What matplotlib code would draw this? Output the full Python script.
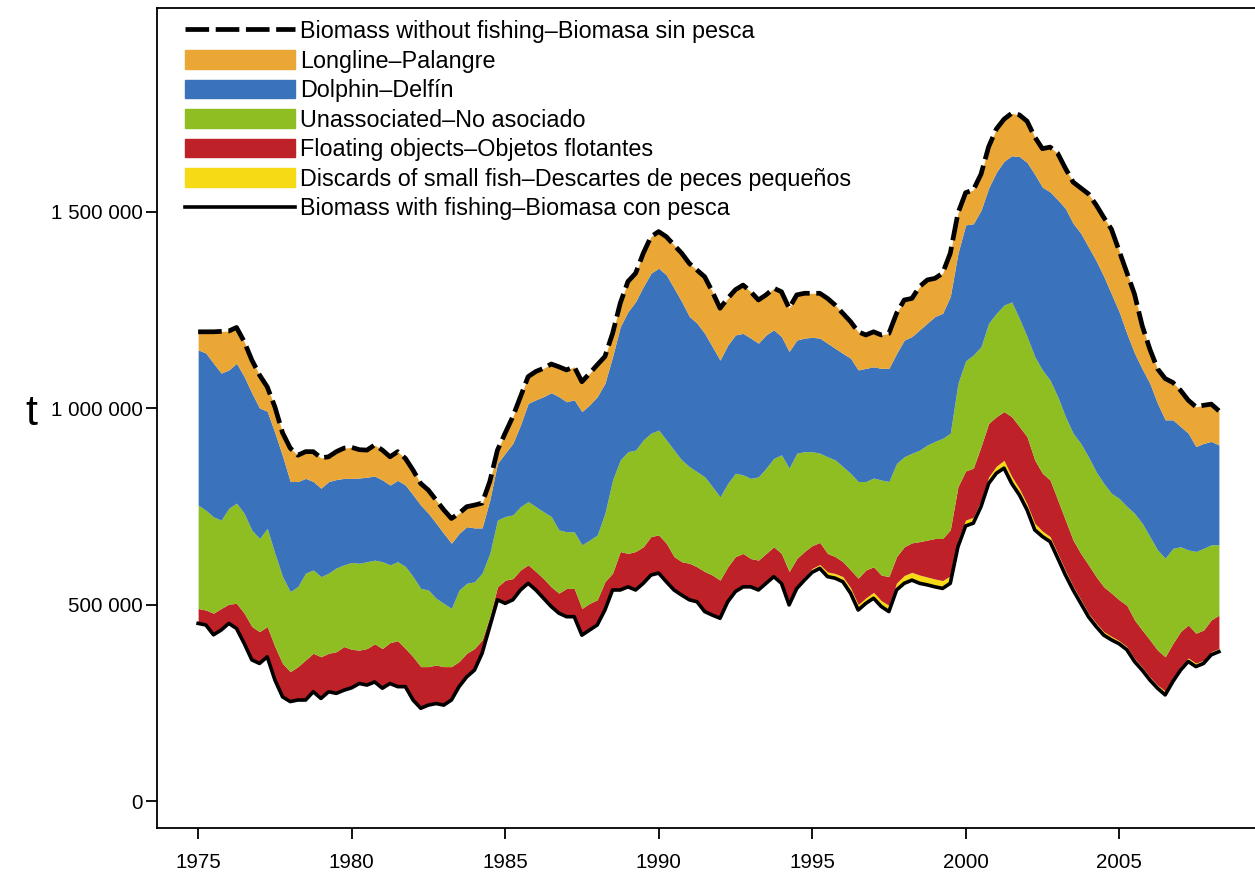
import numpy as np
import matplotlib
matplotlib.use("Agg")
import matplotlib.pyplot as plt
from matplotlib.lines import Line2D
from matplotlib.patches import Patch
from matplotlib.ticker import FuncFormatter

plt.rcParams['font.family'] = ['Liberation Sans', 'DejaVu Sans']

# quarterly, 1975.0 - 2008.25 (thousand t)
years = np.arange(1975, 2008.5, 0.25)

with_fishing = [
    452, 448, 423, 435, 452, 439, 401, 359, 350, 367, 308, 265, 253, 257, 257, 278,
    261, 278, 274, 282, 288, 299, 295, 303, 287, 299, 291, 291, 257, 236, 244, 248,
    244, 257, 291, 316, 333, 376, 444, 512, 503, 512, 537, 554, 537, 516, 495, 478,
    469, 469, 422, 435, 448, 486, 537, 537, 545, 537, 554, 575, 580, 558, 537, 524,
    512, 507, 482, 473, 465, 507, 533, 545, 545, 537, 554, 571, 554, 499, 541, 562,
    582, 592, 571, 567, 558, 529, 486, 503, 516, 495, 482, 537, 554, 562, 554, 550,
    545, 541, 554, 647, 700, 707, 749, 808, 834, 847, 808, 779, 741, 690, 673, 660,
    618, 575, 537, 503, 469, 444, 422, 410, 400, 385, 355, 333, 308, 287, 270, 304,
    333, 355, 342, 350, 372, 380]

discards = [
    2, 2, 2, 2, 2, 2, 2, 2, 2, 2, 2, 2, 2, 2, 2, 2,
    2, 2, 2, 2, 2, 2, 2, 2, 2, 2, 2, 2, 2, 2, 2, 2,
    2, 2, 2, 2, 2, 2, 2, 2, 2, 2, 2, 2, 2, 2, 2, 2,
    2, 2, 2, 2, 2, 2, 2, 2, 2, 2, 2, 2, 2, 2, 2, 2,
    2, 2, 2, 2, 2, 2, 2, 2, 4, 4, 5, 5, 6, 6, 8, 8,
    10, 10, 12, 12, 13, 14, 14, 14, 15, 15, 16, 18, 20, 20, 21, 20,
    20, 20, 19, 18, 15, 15, 16, 17, 18, 20, 18, 16, 15, 17, 14, 13,
    12, 12, 10, 10, 9, 9, 9, 9, 8, 8, 8, 8, 8, 8, 10, 10,
    9, 9, 9, 8, 8, 8]

floating_top = [
    490, 486, 478, 490, 501, 503, 478, 444, 431, 444, 393, 350, 329, 342, 359, 376,
    367, 376, 380, 393, 386, 384, 388, 400, 388, 403, 408, 388, 367, 342, 342, 346,
    342, 342, 355, 376, 388, 410, 469, 545, 562, 566, 588, 601, 584, 566, 545, 529,
    541, 541, 490, 503, 512, 558, 580, 635, 630, 635, 647, 673, 677, 656, 622, 609,
    605, 596, 584, 575, 562, 596, 622, 630, 617, 613, 630, 647, 630, 584, 617, 635,
    650, 658, 630, 622, 609, 588, 567, 588, 596, 575, 571, 622, 647, 657, 660, 664,
    668, 668, 690, 800, 840, 847, 902, 961, 978, 991, 978, 953, 927, 868, 834, 817,
    766, 715, 664, 630, 601, 571, 545, 529, 512, 498, 461, 435, 410, 384, 367, 401,
    431, 448, 427, 435, 461, 473]

unassoc_top = [
    753, 740, 723, 715, 745, 758, 732, 689, 668, 694, 630, 571, 533, 546, 580, 588,
    571, 580, 593, 601, 607, 605, 609, 613, 609, 601, 609, 597, 571, 541, 537, 516,
    503, 490, 537, 554, 558, 580, 630, 715, 724, 728, 749, 762, 749, 736, 724, 690,
    685, 685, 652, 664, 677, 732, 817, 868, 889, 893, 919, 936, 944, 919, 893, 868,
    851, 838, 825, 800, 774, 808, 834, 830, 821, 825, 847, 872, 881, 847, 885, 889,
    889, 885, 876, 868, 851, 834, 813, 813, 822, 817, 813, 859, 876, 885, 893, 906,
    915, 923, 936, 1063, 1120, 1135, 1156, 1216, 1241, 1262, 1270, 1228, 1182, 1131, 1097, 1071,
    1029, 978, 936, 910, 876, 838, 808, 783, 770, 750, 732, 707, 673, 639, 618, 643,
    647, 639, 635, 643, 652, 652]

dolphin_top = [
    1148, 1140, 1114, 1089, 1097, 1114, 1080, 1038, 1000, 992, 937, 878, 813, 813, 821, 813,
    796, 813, 818, 821, 821, 822, 824, 827, 817, 804, 816, 804, 779, 753, 732, 707,
    681, 656, 681, 698, 695, 695, 766, 859, 885, 910, 957, 1012, 1021, 1029, 1039, 1029,
    1016, 1021, 991, 1008, 1029, 1063, 1131, 1207, 1245, 1271, 1309, 1343, 1356, 1339, 1305, 1271,
    1233, 1216, 1190, 1156, 1122, 1160, 1186, 1190, 1178, 1165, 1186, 1199, 1182, 1144, 1173, 1178,
    1180, 1178, 1165, 1152, 1139, 1127, 1097, 1101, 1105, 1101, 1101, 1139, 1173, 1182, 1199, 1216,
    1233, 1241, 1284, 1394, 1466, 1469, 1503, 1560, 1600, 1628, 1642, 1640, 1625, 1595, 1562, 1550,
    1530, 1508, 1470, 1445, 1410, 1375, 1335, 1290, 1245, 1190, 1140, 1100, 1063, 1012, 970, 970,
    953, 936, 902, 910, 915, 906]

without_fishing = [
    1194, 1194, 1194, 1195, 1196, 1205, 1169, 1122, 1084, 1054, 1003, 937, 898, 880, 889, 889,
    873, 876, 889, 898, 900, 894, 893, 906, 893, 876, 889, 872, 842, 808, 791, 766,
    741, 719, 732, 749, 753, 758, 813, 893, 936, 978, 1029, 1080, 1093, 1101, 1112, 1105,
    1097, 1105, 1067, 1088, 1110, 1131, 1190, 1267, 1322, 1343, 1394, 1436, 1449, 1436, 1415, 1394,
    1368, 1351, 1334, 1296, 1254, 1279, 1301, 1313, 1296, 1275, 1288, 1305, 1296, 1254, 1288, 1292,
    1292, 1292, 1279, 1262, 1241, 1220, 1194, 1186, 1194, 1186, 1190, 1241, 1275, 1279, 1309, 1326,
    1330, 1343, 1394, 1496, 1548, 1555, 1595, 1665, 1710, 1735, 1750, 1746, 1730, 1690, 1660, 1664,
    1648, 1610, 1575, 1560, 1545, 1517, 1485, 1455, 1400, 1345, 1290, 1210, 1150, 1100, 1075, 1065,
    1045, 1020, 1003, 1007, 1010, 993]

labels = ["Biomass without fishing\u2013Biomasa sin pesca",
          "Longline\u2013Palangre",
          "Dolphin\u2013Delf\u00edn",
          "Unassociated\u2013No asociado",
          "Floating objects\u2013Objetos flotantes",
          "Discards of small fish\u2013Descartes de peces peque\u00f1os",
          "Biomass with fishing\u2013Biomasa con pesca"]
colors = {"longline": "#EAA736", "dolphin": "#3A73BC", "unassoc": "#8EBE21",
          "floating": "#BE2127", "discards": "#F6DA16"}

wf = np.array(with_fishing) * 1000
yel = wf + np.array(discards) * 1000
flo = np.array(floating_top) * 1000
una = np.array(unassoc_top) * 1000
dol = np.array(dolphin_top) * 1000
nof = np.array(without_fishing) * 1000

fig = plt.figure(figsize=(12.55, 8.8), dpi=100)
ax = fig.add_axes([157 / 1255, 52 / 880, 1110 / 1255, 820 / 880])

ax.fill_between(years, wf, yel, color=colors["discards"], lw=0)
ax.fill_between(years, yel, flo, color=colors["floating"], lw=0)
ax.fill_between(years, flo, una, color=colors["unassoc"], lw=0)
ax.fill_between(years, una, dol, color=colors["dolphin"], lw=0)
ax.fill_between(years, dol, nof, color=colors["longline"], lw=0)
ax.plot(years, wf, color="black", lw=2.6, solid_joinstyle="round")
ax.plot(years, nof, color="black", lw=3.4, linestyle=(0, (5, 1.4)))

ax.set_xlim(1973.66, 1973.66 + 1110 / 30.7)
ax.set_ylim(-68700, 2018000)
ax.spines["right"].set_visible(False)
for s in ["left", "bottom", "top"]:
    ax.spines[s].set_linewidth(1.3)

ax.set_xticks([1975, 1980, 1985, 1990, 1995, 2000, 2005])
ax.set_yticks([0, 500000, 1000000, 1500000])
ax.yaxis.set_major_formatter(FuncFormatter(lambda v, p: f"{int(v):,}".replace(",", " ")))
ax.tick_params(axis="both", labelsize=14.8, width=1.3, length=8)
ax.tick_params(axis="y", pad=2)
ax.tick_params(axis="x", pad=10)

fig.text(31 / 1255, 1 - 414 / 880, "t", fontsize=31, ha="center", va="center")

handles = [Line2D([], [], color="black", lw=3.4, linestyle=(0, (5, 1.4))),
           Patch(color=colors["longline"]),
           Patch(color=colors["dolphin"]),
           Patch(color=colors["unassoc"]),
           Patch(color=colors["floating"]),
           Patch(color=colors["discards"]),
           Line2D([], [], color="black", lw=2.6)]
ax.legend(handles, labels, loc="upper left", bbox_to_anchor=(185 / 1255, 1 - 20 / 880),
          bbox_transform=fig.transFigure, frameon=False, fontsize=16.8,
          handlelength=4.7, handleheight=0.85, handletextpad=0.22,
          labelspacing=0.28, borderpad=0, borderaxespad=0)

fig.savefig("out.png", dpi=100)
